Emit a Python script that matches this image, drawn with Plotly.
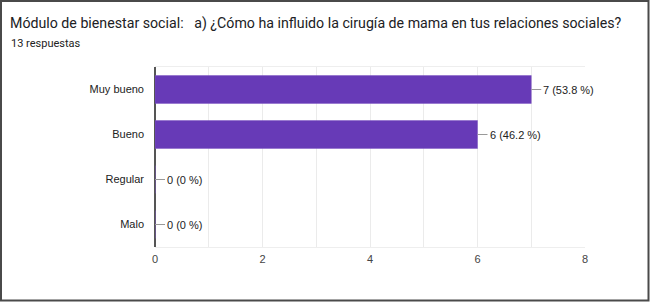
import plotly.graph_objects as go

categories = ["Muy bueno", "Bueno", "Regular", "Malo"]
counts = [7, 6, 0, 0]
percents = [53.8, 46.2, 0, 0]
x_ticks = [0, 2, 4, 6, 8]

W, H = 650, 302
L, R, T, B = 155, 65, 67, 55
PW, PH = W - L - R, H - T - B

def px_x(px):
    return (px - L) / PW

def px_y(py):
    return 1 - (py - T) / PH

fig = go.Figure()
fig.add_trace(go.Bar(
    y=categories, x=counts, orientation="h",
    marker=dict(color="#673ab7", line=dict(color="#7e57c2", width=0.5)),
    width=0.62, hoverinfo="skip",
))

shapes = []
annotations = []
for cat, c, p in zip(categories, counts, percents):
    shapes.append(dict(type="line", xref="x", yref="y", xsizemode="pixel", xanchor=c,
                       x0=0, x1=10, y0=cat, y1=cat, line=dict(color="#999999", width=1)))
    ptxt = f"{p:g}" if p == 0 else f"{p:.1f}"
    annotations.append(dict(x=c, y=cat, xref="x", yref="y", text=f"{c} ({ptxt} %)",
                            showarrow=False, xanchor="left", xshift=10,
                            font=dict(family="Liberation Sans, Arial", size=11, color="#222222")))

# outer border
shapes.append(dict(type="rect", xref="paper", yref="paper",
                   x0=px_x(1), x1=px_x(648.5), y0=px_y(300.5), y1=px_y(1),
                   line=dict(color="#4a4a4a", width=2), fillcolor="rgba(0,0,0,0)", layer="above"))

annotations.append(dict(xref="paper", yref="paper", x=px_x(9), y=px_y(43), text="13 respuestas",
                        showarrow=False, xanchor="left", yanchor="middle",
                        font=dict(family="Roboto, Arial", size=11, color="#222222")))

fig.update_layout(
    width=W, height=H,
    margin=dict(l=L, r=R, t=T, b=B),
    paper_bgcolor="white", plot_bgcolor="white",
    title=dict(text="Módulo de bienestar social:   a) ¿Cómo ha influido la cirugía de mama en tus relaciones sociales?",
               xref="container", yref="container", x=10 / W, y=1 - 23 / H,
               xanchor="left", yanchor="middle",
               font=dict(family="Roboto, Arial", size=14.2, color="#202124")),
    xaxis=dict(range=[0, 8], tickvals=x_ticks, showgrid=True, gridcolor="#ebebeb", gridwidth=1,
               minor=dict(dtick=1, showgrid=True, gridcolor="#ebebeb", gridwidth=1),
               zeroline=True, zerolinecolor="#555555", zerolinewidth=1.5,
               showline=True, linecolor="#eeeeee", linewidth=1, mirror=True,
               ticks="", ticklabelstandoff=2,
               tickfont=dict(family="Liberation Sans, Arial", size=11, color="#444444"),
               fixedrange=True),
    yaxis=dict(autorange="reversed", showgrid=False, ticks="", ticklabelstandoff=10,
               tickfont=dict(family="Liberation Sans, Arial", size=11, color="#222222"),
               fixedrange=True),
    shapes=shapes, annotations=annotations,
    showlegend=False, bargap=0.38,
)

fig.write_html("out.html", config={"displayModeBar": False},
               post_script="document.body.style.margin='0';document.body.style.overflow='hidden';")
